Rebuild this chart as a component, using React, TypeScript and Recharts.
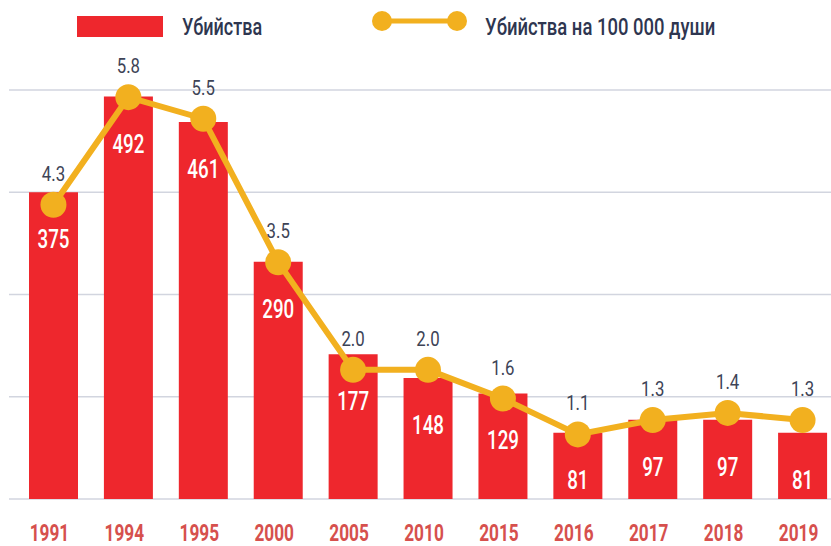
import { ComposedChart, Bar, Line, XAxis, YAxis, CartesianGrid, LabelList } from 'recharts';

const years = ['1991', '1994', '1995', '2000', '2005', '2010', '2015', '2016', '2017', '2018', '2019'];
const murders = [375, 492, 461, 290, 177, 148, 129, 81, 97, 97, 81];
const ratePer100k = [4.3, 5.8, 5.5, 3.5, 2.0, 2.0, 1.6, 1.1, 1.3, 1.4, 1.3];
const barTicks = [0, 125, 250, 375, 500];

const barName = 'Убийства';
const lineName = 'Убийства на 100 000 души';

const RED = '#ee272d';
const GOLD = '#f2b01f';
const INK = '#2e3650';
const FONT = 'Roboto, sans-serif';

const data = years.map((year, i) => ({
    year,
    murders: murders[i],
    rate: ratePer100k[i],
}));

// condensed look: Roboto squeezed horizontally
function NarrowText({ x, y, size, weight, fill, anchor = 'middle', squeeze = 0.75, children }: any) {
    return (
        <text
            transform={`translate(${x},${y}) scale(${squeeze},1)`}
            textAnchor={anchor}
            fontFamily={FONT}
            fontSize={size}
            fontWeight={weight}
            fill={fill}
        >
            {children}
        </text>
    );
}

function YearTick({ x, y, payload }: any) {
    return (
        <NarrowText x={x - 4} y={y + 40} size={23} weight={700} fill="#d6504d">
            {payload.value}
        </NarrowText>
    );
}

function BarValue({ x, y, width, value }: any) {
    return (
        <NarrowText x={x + width / 2} y={y + 56} size={25} weight={500} fill="#ffffff">
            {value}
        </NarrowText>
    );
}

function RateValue({ x, y, value }: any) {
    return (
        <NarrowText x={x} y={y - 24} size={21} weight={400} fill="#3d4356" squeeze={0.8}>
            {Number(value).toFixed(1)}
        </NarrowText>
    );
}

function ChartLegend() {
    return (
        <svg width={831} height={50} style={{ position: 'absolute', left: 0, top: 0 }}>
            <rect x={77} y={16} width={86} height={21} fill={RED} />
            <NarrowText x={182} y={35} size={24} weight={500} fill={INK} anchor="start">
                {barName}
            </NarrowText>
            <line x1={382} y1={21} x2={457} y2={21} stroke={GOLD} strokeWidth={5} />
            <circle cx={382} cy={21} r={10} fill={GOLD} />
            <circle cx={457} cy={21} r={10} fill={GOLD} />
            <NarrowText x={485} y={35} size={24} weight={500} fill={INK} anchor="start" squeeze={0.77}>
                {lineName}
            </NarrowText>
        </svg>
    );
}

export default function App() {
    return (
        <div style={{ position: 'absolute', left: 0, top: 0, width: 831, height: 546, overflow: 'hidden', background: '#fff' }}>
            <ComposedChart width={840} height={546} data={data} margin={{ top: 90, right: 0, bottom: 0, left: 9 }}>
                <CartesianGrid vertical={false} yAxisId="count" stroke="#d2d5df" strokeWidth={1.5} />
                <XAxis
                    dataKey="year"
                    axisLine={false}
                    tickLine={false}
                    tickSize={0}
                    height={47}
                    padding={{ left: 7, right: 0 }}
                    interval={0}
                    tick={<YearTick />}
                />
                <YAxis yAxisId="count" hide domain={[0, 500]} ticks={barTicks} />
                <YAxis yAxisId="rate" hide orientation="right" domain={[0.2, 5.9]} />
                <Bar yAxisId="count" dataKey="murders" name={barName} fill={RED} barSize={49} isAnimationActive={false}>
                    <LabelList dataKey="murders" content={<BarValue />} />
                </Bar>
                <Line
                    yAxisId="rate"
                    dataKey="rate"
                    name={lineName}
                    type="linear"
                    stroke={GOLD}
                    strokeWidth={6}
                    dot={{ r: 13, fill: GOLD, stroke: 'none' }}
                    activeDot={false}
                    isAnimationActive={false}
                >
                    <LabelList dataKey="rate" content={<RateValue />} />
                </Line>
            </ComposedChart>
            <ChartLegend />
        </div>
    );
}
